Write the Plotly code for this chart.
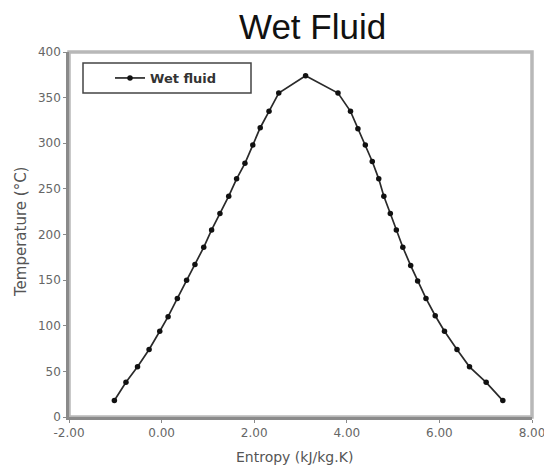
import plotly.graph_objects as go

entropy = [-1.02, -0.77, -0.52, -0.27, -0.04, 0.14, 0.34, 0.54, 0.72, 0.91, 1.08,
           1.26, 1.45, 1.62, 1.80, 1.97, 2.13, 2.32, 2.53, 3.11, 3.81, 4.08, 4.24,
           4.40, 4.55, 4.69, 4.80, 4.94, 5.07, 5.21, 5.38, 5.53, 5.71, 5.91, 6.11,
           6.38, 6.65, 7.01, 7.37]
temperature = [18, 38, 55, 74, 94, 110, 130, 150, 167, 186, 205,
               223, 242, 261, 278, 298, 317, 335, 355, 374, 355, 335, 316,
               298, 280, 261, 242, 223, 205, 186, 166, 149, 130, 111, 94,
               74, 55, 38, 18]
x_ticks = [-2, 0, 2, 4, 6, 8]
x_tick_labels = ["-2.00", "0.00", "2.00", "4.00", "6.00", "8.00"]
y_ticks = [0, 50, 100, 150, 200, 250, 300, 350, 400]
y_tick_labels = ["0", "50", "100", "150", "200", "250", "300", "350", "400"]

W, H = 544, 472
L, R, T, B = 69, 12, 52, 55
pw, ph = W - L - R, H - T - B


def px_x(p):
    return (p - L) / pw


def px_y(p):
    return (H - B - p) / ph


fig = go.Figure()
fig.add_trace(go.Scatter(
    x=entropy, y=temperature, mode="lines+markers", name="Wet fluid",
    line=dict(color="#2a2a2a", width=1.7),
    marker=dict(color="#111111", size=5.5, symbol="circle"),
))

sans = "DejaVu Sans, Liberation Sans, Arial, sans-serif"

fig.update_layout(
    width=W, height=H,
    margin=dict(l=L, r=R, t=T, b=B, autoexpand=False),
    paper_bgcolor="white", plot_bgcolor="white",
    font=dict(family=sans, color="#555555"),
    showlegend=True,
    legend=dict(x=px_x(110), y=px_y(78), xanchor="left", yanchor="middle",
                bgcolor="rgba(0,0,0,0)", borderwidth=0,
                font=dict(size=13, color="#333333", weight="bold", family=sans),
                itemwidth=30),
    xaxis=dict(range=[-2, 8], tickvals=x_ticks, ticktext=x_tick_labels,
               showgrid=False, zeroline=False, showline=True, linecolor="#8a8a8a",
               linewidth=2.5, ticks="outside", ticklen=3, tickcolor="#8a8a8a",
               tickfont=dict(size=12, color="#666666"), automargin=False,
               ticklabeloverflow="allow"),
    yaxis=dict(range=[0, 400], tickvals=y_ticks, ticktext=y_tick_labels,
               showgrid=False, zeroline=False, showline=True, linecolor="#8a8a8a",
               linewidth=2.5, ticks="outside", ticklen=3, tickcolor="#8a8a8a",
               tickfont=dict(size=12, color="#666666"), automargin=False),
    shapes=[
        dict(type="rect", xref="paper", yref="paper", x0=0, y0=0, x1=1, y1=1,
             line=dict(color="#b8b8b8", width=3.5), layer="below"),
        dict(type="rect", xref="paper", yref="paper",
             x0=px_x(83), x1=px_x(251), y0=px_y(93), y1=px_y(63),
             line=dict(color="#444444", width=1.5), fillcolor="white", layer="below"),
    ],
    annotations=[
        dict(text="Wet Fluid", xref="paper", yref="paper", x=px_x(312), y=px_y(27),
             xanchor="center", yanchor="middle", showarrow=False,
             font=dict(size=35, color="#111111", family="Liberation Sans, Arial, sans-serif")),
        dict(text="Entropy (kJ/kg.K)", xref="paper", yref="paper", x=px_x(294), y=px_y(457),
             xanchor="center", yanchor="middle", showarrow=False,
             font=dict(size=14, color="#555555", family=sans)),
        dict(text="Temperature (°C)", xref="paper", yref="paper", x=px_x(21), y=px_y(232),
             xanchor="center", yanchor="middle", showarrow=False, textangle=-90,
             font=dict(size=15, color="#555555", family=sans)),
    ],
)

fig.write_html("out.html", config={"displayModeBar": False},
               post_script="document.body.style.margin='0';document.body.style.overflow='hidden';")
